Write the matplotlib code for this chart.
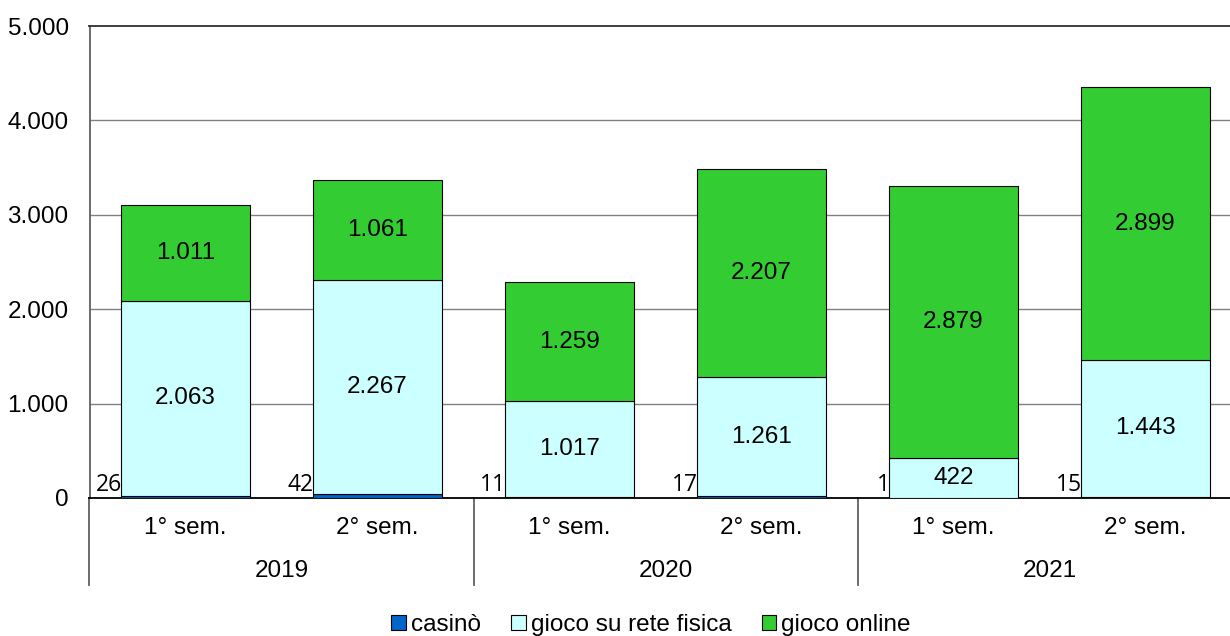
import matplotlib
matplotlib.use("Agg")
import matplotlib.pyplot as plt
from matplotlib.patches import Patch
from matplotlib.transforms import blended_transform_factory

years = ["2019", "2020", "2021"]
semesters = ["1° sem.", "2° sem.", "1° sem.", "2° sem.", "1° sem.", "2° sem."]
casino = [26, 42, 11, 17, 1, 15]
rete_fisica = [2063, 2267, 1017, 1261, 422, 1443]
online = [1011, 1061, 1259, 2207, 2879, 2899]
series_names = ["casinò", "gioco su rete fisica", "gioco online"]
colors = ["#0066CC", "#CCFFFF", "#33CC33"]
yticks = [0, 1000, 2000, 3000, 4000, 5000]

def fmt(v):
    return f"{v:,}".replace(",", ".")

FS = 17.5
plt.rcParams['font.family'] = ['Liberation Sans', 'DejaVu Sans']
fig = plt.figure(figsize=(12.3, 6.36), dpi=100)
ax = fig.add_axes([89.5/1230, 1-498/636, 1152/1230, 472/636])

x = list(range(len(semesters)))
w = 0.67
ax.bar(x, casino, w, color=colors[0], edgecolor="black", linewidth=0.8, zorder=3)
ax.bar(x, rete_fisica, w, bottom=casino, color=colors[1], edgecolor="black", linewidth=0.8, zorder=3)
bottom2 = [c + r for c, r in zip(casino, rete_fisica)]
ax.bar(x, online, w, bottom=bottom2, color=colors[2], edgecolor="black", linewidth=0.8, zorder=3)

for i in x:
    ax.text(i, casino[i] + rete_fisica[i] / 2, fmt(rete_fisica[i]), ha="center", va="center", fontsize=FS, zorder=4)
    ax.text(i, bottom2[i] + online[i] / 2, fmt(online[i]), ha="center", va="center", fontsize=FS, zorder=4)
    ax.text(i - w / 2 + 0.004, 135, fmt(casino[i]), ha="right", va="center", fontsize=16.5,
            family=['Open Sans', 'DejaVu Sans'], zorder=4)

ax.set_xlim(-0.5, len(semesters) - 0.5)
ax.set_ylim(0, 5000)
ax.set_yticks(yticks)
ax.set_yticklabels([fmt(v) for v in yticks], fontsize=FS)
ax.tick_params(axis="y", length=0, pad=15)
ax.set_xticks([])
for yv in yticks[1:-1]:
    ax.axhline(yv, color="#808080", linewidth=1.0, zorder=1)

ax.spines["top"].set_color("#303030")
ax.spines["top"].set_linewidth(1.3)
ax.spines["right"].set_visible(False)
ax.spines["bottom"].set_color("black")
ax.spines["bottom"].set_linewidth(1.3)
ax.spines["left"].set_color("#606060")
ax.spines["left"].set_linewidth(1.3)

trans = blended_transform_factory(ax.transData, ax.transAxes)
low = -(585 - 498) / 472
for xv in [-0.5, 1.5, 3.5]:
    ax.plot([xv, xv], [0, low], transform=trans, color="#606060", linewidth=1.3, clip_on=False)
for i, s in enumerate(semesters):
    ax.text(i, -(528 - 498) / 472, s, transform=trans, ha="center", va="center", fontsize=FS)
for j, yr in enumerate(years):
    ax.text(2 * j + 0.5, -(571 - 498) / 472, yr, transform=trans, ha="center", va="center", fontsize=FS)

handles = [Patch(facecolor=c, edgecolor="black", linewidth=0.8) for c in colors]
fig.legend(handles, series_names, loc="center", bbox_to_anchor=(651/1230, 1-625/636), ncol=3,
           frameon=False, fontsize=FS, handlelength=0.6, handleheight=0.6, handletextpad=0.2,
           columnspacing=1.25, borderaxespad=0)

fig.savefig("out.png", dpi=100)
